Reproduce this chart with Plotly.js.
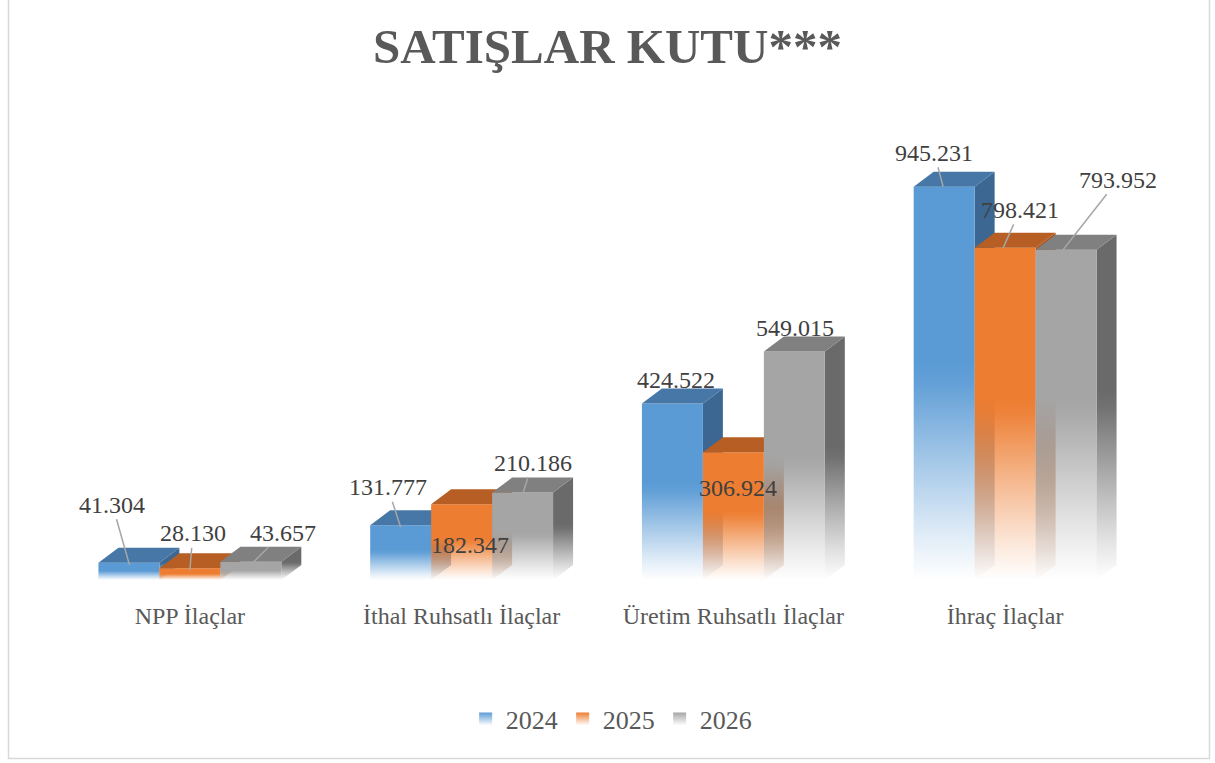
<!DOCTYPE html>
<html>
<head>
<meta charset="utf-8">
<script src="https://cdn.plot.ly/plotly-3.0.1.min.js"></script>
<style>
  html, body { margin: 0; padding: 0; background: #ffffff; }
  #chart { width: 1215px; height: 763px; }
</style>
</head>
<body>
<div id="chart"></div>
<script>
// ---------------- DATA ----------------
const categories = ['NPP İlaçlar', 'İthal Ruhsatlı İlaçlar', 'Üretim Ruhsatlı İlaçlar', 'İhraç İlaçlar'];
const years = ['2024', '2025', '2026'];
const values2024 = [41304, 131777, 424522, 945231];
const values2025 = [28130, 182347, 306924, 798421];
const values2026 = [43657, 210186, 549015, 793952];
const seriesValues = [values2024, values2025, values2026];

// ---------------- STYLE / LAYOUT ----------------
const SERIF = 'Liberation Serif';
const W = 1215, H = 763;
const mL = 54, mR = 74, mT = 164, mB = 183;
const plotW = W - mL - mR, plotH = H - mT - mB;
const yMax = 1000000;
const xPerPx = 4 / plotW;
const yPerPx = yMax / plotH;
const groupWidth = 0.673;
const barW = groupWidth / 3;
const depthX = 20 * xPerPx;
const depthY = 15 * yPerPx;

const frontRGB = [[91,155,213],[237,125,49],[165,165,165]];
const topColors = ['#4677a7', '#b65e23', '#808080'];
const sideRGB = [[59,103,146],[168,86,31],[106,106,106]];

function rgba(c, a) { return 'rgba(' + c[0] + ',' + c[1] + ',' + c[2] + ',' + a + ')'; }
function fadeScale(c) {
  return [[0, rgba(c, 0.0)], [0.12, rgba(c, 0.2)], [0.3, rgba(c, 0.55)], [0.5, rgba(c, 0.95)], [0.55, rgba(c, 1)], [1, rgba(c, 1)]];
}
function fmt(n) { return String(n).replace(/\B(?=(\d{3})+(?!\d))/g, '.'); }

// label placement (pixels): [targetDx, targetDy, ax, ay, arrow]
const labelPlacement = [
  [[0.5, 2, -17, -60, true], [0, 2, -13, -40, true], [3.5, -23, 0, 0, false], [-1, 0, -9, -34, true]],
  [[0, 2, 3, -37, true], [8.5, 41, 0, 0, false], [4.5, 36, 0, 0, false], [-2, 0, 17, -38, true]],
  [[0, 3, 32, -32, true], [0, 2, 10, -32, true], [0.5, -24, 0, 0, false], [-3, 0, 55, -70, true]]
];

const traces = [];
const annotations = [];

for (let i = 0; i < categories.length; i++) {
  for (let s = 0; s < years.length; s++) {
    const v = seriesValues[s][i];
    const x0 = i - groupWidth / 2 + s * barW;
    const x1 = x0 + barW;
    // side face
    traces.push({
      type: 'scatter', mode: 'lines', fill: 'toself', hoverinfo: 'skip', showlegend: false,
      x: [x1, x1 + depthX, x1 + depthX, x1, x1],
      y: [0, depthY, v + depthY, v, 0],
      line: { width: 0, color: 'rgba(0,0,0,0)' },
      fillgradient: { type: 'vertical', start: 0, stop: v + depthY, colorscale: fadeScale(sideRGB[s]) }
    });
    // front face
    traces.push({
      type: 'scatter', mode: 'lines', fill: 'toself', hoverinfo: 'skip', showlegend: false,
      x: [x0, x1, x1, x0, x0],
      y: [0, 0, v, v, 0],
      line: { width: 0, color: 'rgba(0,0,0,0)' },
      fillgradient: { type: 'vertical', start: 0, stop: v, colorscale: fadeScale(frontRGB[s]) }
    });
    // top face
    traces.push({
      type: 'scatter', mode: 'lines', fill: 'toself', hoverinfo: 'skip', showlegend: false,
      x: [x0, x1, x1 + depthX, x0 + depthX, x0],
      y: [v, v, v + depthY, v + depthY, v],
      line: { width: 0, color: 'rgba(0,0,0,0)' },
      fillcolor: topColors[s]
    });

    const p = labelPlacement[s][i];
    const cx = (x0 + x1) / 2;
    if (p[4]) {
      annotations.push({
        x: cx + p[0] * xPerPx, y: v - p[1] * yPerPx, xref: 'x', yref: 'y',
        text: fmt(v), showarrow: true, arrowhead: 0, arrowwidth: 1.5, arrowcolor: '#a6a6a6',
        ax: p[2], ay: p[3], axref: 'pixel', ayref: 'pixel', standoff: 0,
        font: { family: SERIF, size: 24, color: '#404040' }
      });
    } else {
      annotations.push({
        x: cx, y: v, xref: 'x', yref: 'y', text: fmt(v), showarrow: false,
        xanchor: 'center', yanchor: 'middle', xshift: p[0], yshift: -p[1],
        font: { family: SERIF, size: 24, color: '#404040' }
      });
    }
  }
}

// legend entries
for (let s = 0; s < years.length; s++) {
  traces.push({
    type: 'scatter', mode: 'markers', name: years[s], x: [null], y: [null], hoverinfo: 'skip',
    marker: { symbol: 'square', size: 13, color: rgba(frontRGB[s], 1),
              gradient: { type: 'vertical', color: 'rgba(255,255,255,1)' } }
  });
}

// chart border
const px2xp = px => (px - mL) / plotW;
const py2yp = py => (H - mB - py) / plotH;
const shapes = [{
  type: 'rect', xref: 'paper', yref: 'paper', layer: 'below',
  x0: px2xp(8.5), x1: px2xp(1209.5), y0: py2yp(758.5), y1: py2yp(-2),
  line: { color: '#d9d9d9', width: 1.5 }, fillcolor: 'rgba(0,0,0,0)'
}];

const layout = {
  width: W, height: H,
  font: { family: SERIF },
  margin: { l: mL, r: mR, t: mT, b: mB, pad: 0 },
  paper_bgcolor: '#ffffff', plot_bgcolor: 'rgba(0,0,0,0)',
  title: {
    text: 'SATIŞLAR KUTU***', x: 0.5, xref: 'container', xanchor: 'center',
    y: 1 - 46 / H, yref: 'container', yanchor: 'middle',
    font: { family: SERIF, size: 49, color: '#595959', weight: 700 }
  },
  xaxis: {
    range: [-0.5, 3.5], tickmode: 'array', tickvals: [0, 1, 2, 3], ticktext: categories,
    showgrid: false, zeroline: false, showline: false, ticks: '', ticklabelstandoff: 19,
    tickfont: { family: SERIF, size: 24, color: '#595959' },
    fixedrange: true
  },
  yaxis: {
    range: [0, yMax], visible: false, showgrid: false, zeroline: false, fixedrange: true
  },
  showlegend: true,
  legend: {
    orientation: 'h', xref: 'container', yref: 'container',
    x: 0.503, xanchor: 'center', y: 1 - 719 / H, yanchor: 'middle',
    font: { family: SERIF, size: 26, color: '#595959' },
    itemwidth: 30, bgcolor: 'rgba(0,0,0,0)'
  },
  annotations: annotations,
  shapes: shapes
};

Plotly.newPlot('chart', traces, layout, { displayModeBar: false, staticPlot: true });
</script>
</body>
</html>
